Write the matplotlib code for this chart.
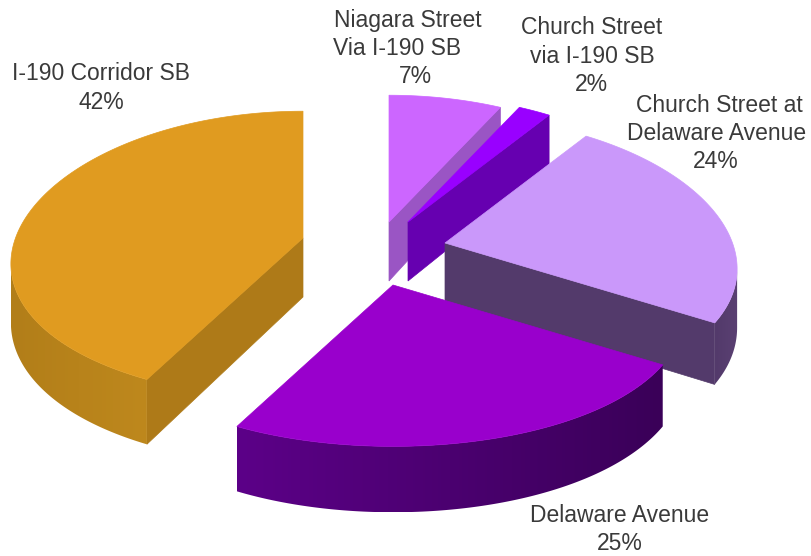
import numpy as np
import matplotlib
matplotlib.use("Agg")
import matplotlib.pyplot as plt
from matplotlib.colors import to_rgb
from matplotlib.patches import Polygon

# Share of traffic by route, clockwise from twelve o'clock
categories = [["Niagara Street", "Via I-190 SB"], ["Church Street", "via I-190 SB"],
              ["Church Street at", "Delaware Avenue"], ["Delaware Avenue"], ["I-190 Corridor SB"]]
shares = [7, 2, 24, 25, 42]

top_colors = ["#CC66FF", "#9900FF", "#CA98FA", "#9900CC", "#E09B20"]
cut_colors = ["#9A55C4", "#6600B0", "#533A6B", "#4A0070", "#AE7A18"]
rim_right = ["#9A55C4", "#6600B0", "#5A4072", "#3A0058", "#BE881D"]
rim_left = ["#9A55C4", "#6600B0", "#533A6B", "#5C0088", "#B27E19"]

# Wedge tips in figure pixels: each slice is pulled out of the pie by its own amount
tips = [(389, 222), (408, 222), (445, 243), (393, 285), (303, 238)]
draw_order = [0, 1, 4, 2, 3]

# Label placement: centre row of the first line and the centre of every line
label_top = [20, 28, 105, 515, 74]
label_x = [[408, 397, 415], [592, 592, 591], [719, 717, 716], [620, 620], [101, 101]]
LINE_STEP = 28.4

RX, RY, PERSPECTIVE, THICKNESS, SAG = 290.0, 142.0, 0.12, 58.0, 1.0e-4


def project(tip, theta, drop=0.0):
    """Place a rim point of a wedge, with the far side of the pie foreshortened."""
    near = 1.0 / (1.0 + PERSPECTIVE * np.cos(theta))
    dx = RX * np.sin(theta) * near
    return tip[0] + dx, tip[1] - RY * np.cos(theta) * near + SAG * dx ** 2 + drop * near


fig = plt.figure(figsize=(8.11, 5.56), dpi=100, facecolor="white")
ax = fig.add_axes([0, 0, 1, 1])
ax.axis("off")

edges = np.cumsum([0] + shares) / sum(shares) * 2 * np.pi
layer = 1

for i in draw_order:
    tip = tips[i]
    thetas = np.linspace(edges[i], edges[i + 1], 240)
    rim = np.array([project(tip, t) for t in thetas])
    low = np.array([project(tip, t, THICKNESS) for t in thetas])
    tip_low = (tip[0], tip[1] + THICKNESS + 1)

    # Cut faces, shown only where they turn towards the viewer
    for end, outward in ((0, rim[0, 0] < tip[0]), (-1, rim[-1, 0] > tip[0])):
        if outward:
            ax.add_patch(Polygon([tip, rim[end], low[end], tip_low], fc=cut_colors[i],
                                 ec=cut_colors[i], lw=0.5, zorder=layer))
            layer += 1

    # Curved outer wall, with a left-to-right shade clipped to its outline
    facing = np.append(np.diff(rim[:, 0]) < 0, False)
    facing[1:] |= facing[:-1]
    if facing.any():
        outline = np.vstack([rim[facing], low[facing][::-1]])
        ramp = np.linspace(to_rgb(rim_left[i]), to_rgb(rim_right[i]), 256)[None, :, :]
        box = (outline[:, 0].min(), outline[:, 0].max(), outline[:, 1].max(), outline[:, 1].min())
        shade = ax.imshow(ramp, extent=box, aspect="auto", interpolation="bilinear", zorder=layer)
        shade.set_clip_path(Polygon(outline, transform=ax.transData))
        layer += 1

    ax.add_patch(Polygon(np.vstack([[tip], rim]), fc=top_colors[i], ec=top_colors[i],
                         lw=0.5, zorder=layer))
    layer += 1

ax.set_xlim(0, 811)
ax.set_ylim(556, 0)

for name, share, top, xs in zip(categories, shares, label_top, label_x):
    for row, (line, x) in enumerate(zip(name + [f"{share}%"], xs)):
        ax.text(x, top + row * LINE_STEP, line, ha="center", va="center",
                family="Liberation Sans", fontsize=16.5, color="#3a3a3a", zorder=layer)

fig.savefig("out.png", dpi=100)
